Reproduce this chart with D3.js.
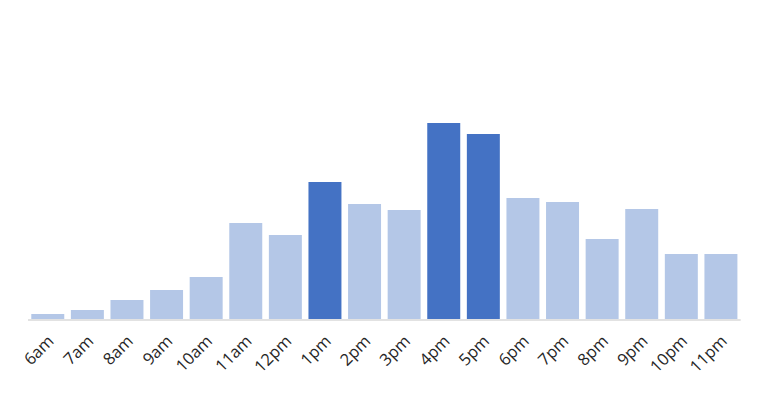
<!DOCTYPE html>
<html><head><meta charset="utf-8">
<script src="https://cdn.jsdelivr.net/npm/d3@7"></script>
<style>body{margin:0;background:#fff;} text{font-family:"Open Sans","Noto Sans",sans-serif;}</style>
</head><body>
<svg id="chart" width="765" height="395"></svg>
<script>
const categories = ["6am","7am","8am","9am","10am","11am","12pm","1pm","2pm","3pm","4pm","5pm","6pm","7pm","8pm","9pm","10pm","11pm"];
const values = [5,9,19,29,42,96,84,137,115,109,196,185,121,117,80,110,65,65];
const highlighted = ["1pm","4pm","5pm"];

const svg = d3.select("#chart");
const x = d3.scaleBand().domain(categories).range([28, 740.7]).paddingInner(0.167).paddingOuter(0.083);
const y = d3.scaleLinear().domain([0, 299]).range([319, 20]);

svg.selectAll("rect.bar").data(categories).enter().append("rect")
  .attr("class","bar")
  .attr("x", d => x(d))
  .attr("width", x.bandwidth())
  .attr("y", (d,i) => y(values[i]))
  .attr("height", (d,i) => y(0) - y(values[i]))
  .attr("fill", d => highlighted.includes(d) ? "#4472c4" : "#b4c7e7");

svg.append("line").attr("x1",28).attr("x2",740.7).attr("y1",320).attr("y2",320)
  .attr("stroke","#d9d9d9").attr("stroke-width",1.5);

const xAxis = d3.axisBottom(x).tickSize(0).tickPadding(0);
const g = svg.append("g").attr("transform","translate(0,320)").call(xAxis);
g.select(".domain").remove();
g.selectAll("text")
  .attr("font-size","16.5px").attr("fill","#262626")
  .attr("text-anchor","end")
  .attr("y",0).attr("dy","0.35em")
  .attr("transform", "translate(3,18) rotate(-45)");
</script>
</body></html>
